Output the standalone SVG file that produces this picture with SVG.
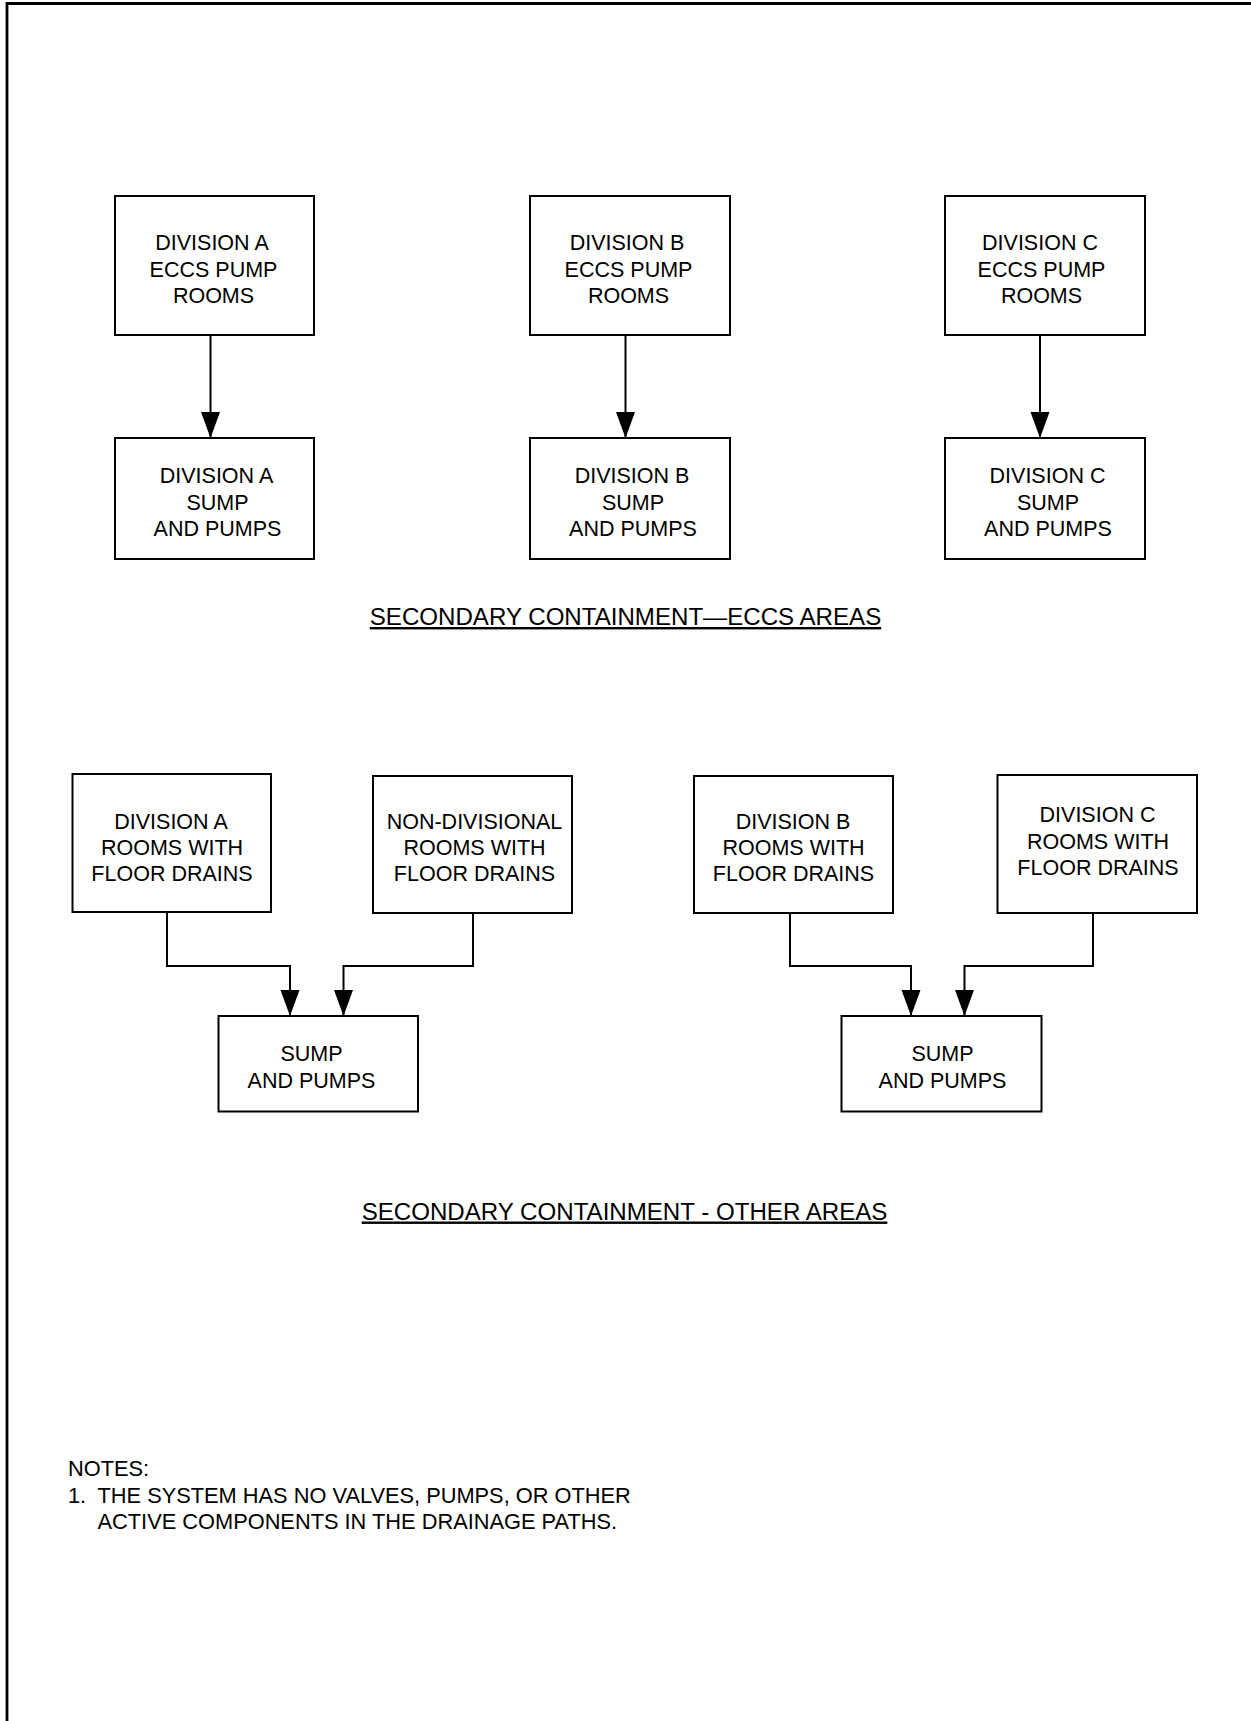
<svg xmlns="http://www.w3.org/2000/svg" width="1251" height="1721" viewBox="0 0 1251 1721">
<style>
  .box { fill: #fff; stroke: #000; stroke-width: 2; }
  .t { font-family: "Liberation Sans", Arial, sans-serif; font-size: 21.5px; fill: #000; text-anchor: middle; }
  .title { font-family: "Liberation Sans", Arial, sans-serif; font-size: 24.1px; fill: #000; text-anchor: middle; text-decoration: underline; }
  .note { font-family: "Liberation Sans", Arial, sans-serif; font-size: 21.8px; fill: #000; }
  .conn { fill: none; stroke: #000; stroke-width: 2; marker-end: url(#arr); }
</style>
<defs>
  <marker id="arr" markerUnits="userSpaceOnUse" markerWidth="27" markerHeight="20" refX="26" refY="9.5" orient="auto">
    <path d="M0,0 L26,9.5 L0,19 Z" fill="#000"/>
  </marker>
</defs>
<rect x="0" y="0" width="1251" height="1721" fill="#fff"/>
<path d="M7,1721 V3.5 H1251" fill="none" stroke="#000" stroke-width="2.8"/>

<g id="connectors">
  <path class="conn" d="M210.5,335 V438"/>
  <path class="conn" d="M625.5,335 V438"/>
  <path class="conn" d="M1040,335 V438"/>
  <path class="conn" d="M167,912 V966 H290 V1016"/>
  <path class="conn" d="M473,913 V966 H343.5 V1016"/>
  <path class="conn" d="M790,913 V966 H911 V1016"/>
  <path class="conn" d="M1093,913 V966 H964.5 V1016"/>
</g>

<g id="div-a-eccs">
  <rect class="box" x="115" y="196" width="199" height="139"/>
  <text class="t"><tspan x="212" y="250">DIVISION A</tspan><tspan x="213.5" y="276.5">ECCS PUMP</tspan><tspan x="213.5" y="303">ROOMS</tspan></text>
</g>
<g id="div-b-eccs">
  <rect class="box" x="530" y="196" width="200" height="139"/>
  <text class="t"><tspan x="627" y="250">DIVISION B</tspan><tspan x="628.5" y="276.5">ECCS PUMP</tspan><tspan x="628.5" y="303">ROOMS</tspan></text>
</g>
<g id="div-c-eccs">
  <rect class="box" x="945" y="196" width="200" height="139"/>
  <text class="t"><tspan x="1040" y="250">DIVISION C</tspan><tspan x="1041.5" y="276.5">ECCS PUMP</tspan><tspan x="1041.5" y="303">ROOMS</tspan></text>
</g>
<g id="div-a-sump">
  <rect class="box" x="115" y="438" width="199" height="121"/>
  <text class="t"><tspan x="216.5" y="483">DIVISION A</tspan><tspan x="217.5" y="509.5">SUMP</tspan><tspan x="217.5" y="535.5">AND PUMPS</tspan></text>
</g>
<g id="div-b-sump">
  <rect class="box" x="530" y="438" width="200" height="121"/>
  <text class="t"><tspan x="632" y="483">DIVISION B</tspan><tspan x="633" y="509.5">SUMP</tspan><tspan x="633" y="535.5">AND PUMPS</tspan></text>
</g>
<g id="div-c-sump">
  <rect class="box" x="945" y="438" width="200" height="121"/>
  <text class="t"><tspan x="1047.5" y="483">DIVISION C</tspan><tspan x="1048" y="509.5">SUMP</tspan><tspan x="1048" y="535.5">AND PUMPS</tspan></text>
</g>

<g id="title-eccs">
  <text class="title" x="625.5" y="625">SECONDARY CONTAINMENT—ECCS AREAS</text>
</g>

<g id="div-a-rooms">
  <rect class="box" x="72.5" y="774" width="198.5" height="138"/>
  <text class="t"><tspan x="171" y="828.5">DIVISION A</tspan><tspan x="172" y="855">ROOMS WITH</tspan><tspan x="172" y="881">FLOOR DRAINS</tspan></text>
</g>
<g id="non-div-rooms">
  <rect class="box" x="373" y="776" width="199" height="137"/>
  <text class="t"><tspan x="474.5" y="828.5">NON-DIVISIONAL</tspan><tspan x="474.5" y="855">ROOMS WITH</tspan><tspan x="474.5" y="881">FLOOR DRAINS</tspan></text>
</g>
<g id="div-b-rooms">
  <rect class="box" x="694" y="776" width="199" height="137"/>
  <text class="t"><tspan x="793" y="828.5">DIVISION B</tspan><tspan x="793.5" y="855">ROOMS WITH</tspan><tspan x="793.5" y="881">FLOOR DRAINS</tspan></text>
</g>
<g id="div-c-rooms">
  <rect class="box" x="997.5" y="775" width="199.5" height="138"/>
  <text class="t"><tspan x="1097.5" y="822">DIVISION C</tspan><tspan x="1098" y="848.5">ROOMS WITH</tspan><tspan x="1098" y="874.5">FLOOR DRAINS</tspan></text>
</g>
<g id="sump-left">
  <rect class="box" x="218.5" y="1016" width="199.5" height="95.5"/>
  <text class="t"><tspan x="311.5" y="1061">SUMP</tspan><tspan x="311.5" y="1087.5">AND PUMPS</tspan></text>
</g>
<g id="sump-right">
  <rect class="box" x="841.5" y="1016" width="200" height="95.5"/>
  <text class="t"><tspan x="942.5" y="1061">SUMP</tspan><tspan x="942.5" y="1087.5">AND PUMPS</tspan></text>
</g>

<g id="title-other">
  <text class="title" x="624.5" y="1219.5">SECONDARY CONTAINMENT - OTHER AREAS</text>
</g>

<g id="notes">
  <text class="note" x="68" y="1476">NOTES:</text>
  <text class="note" y="1502.5"><tspan x="68">1.</tspan><tspan x="97.5">THE SYSTEM HAS NO VALVES, PUMPS, OR OTHER</tspan></text>
  <text class="note" x="97.5" y="1528.5">ACTIVE COMPONENTS IN THE DRAINAGE PATHS.</text>
</g>
</svg>
